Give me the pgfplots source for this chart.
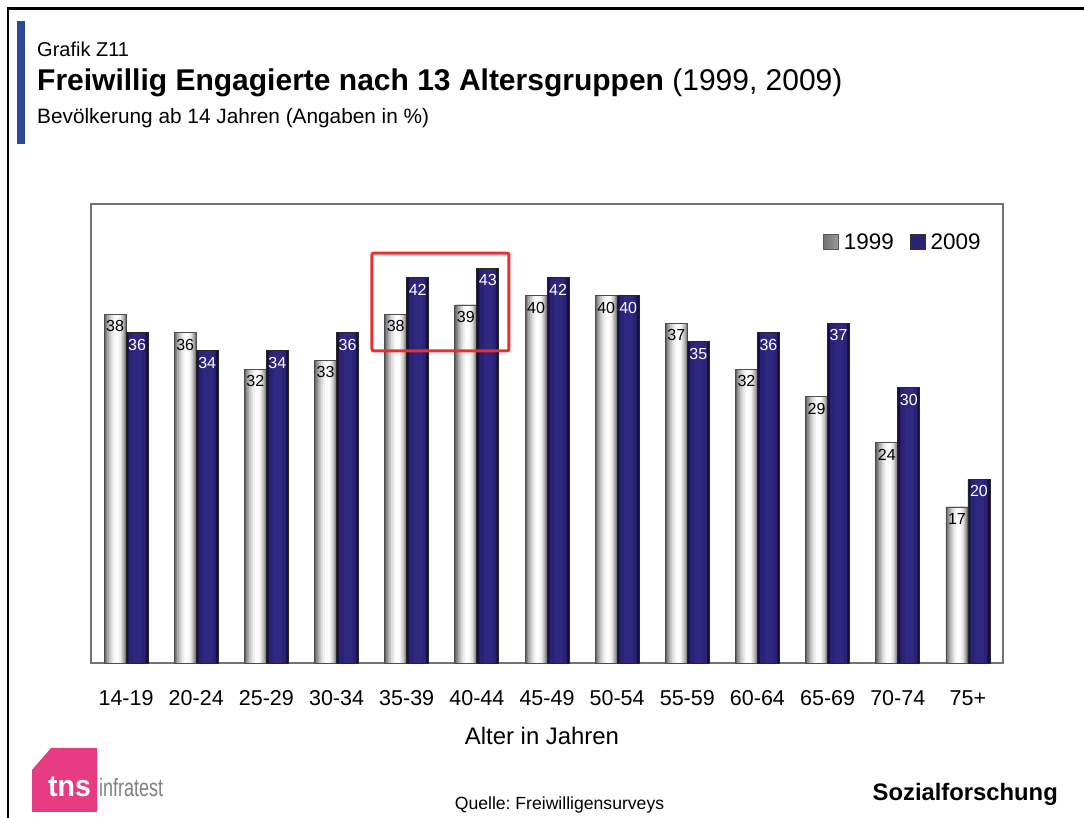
\documentclass[border=0pt]{standalone}
\usepackage{fontspec}
\setmainfont{Liberation Sans}
\usepackage{graphicx}
\usepackage{pgfplots}
\pgfplotsset{compat=1.18}
\frenchspacing
\definecolor{accentblue}{RGB}{46,70,155}
\definecolor{navyO}{RGB}{22,16,70}
\definecolor{navyI}{RGB}{42,34,116}
\definecolor{navyC}{RGB}{48,40,128}
\definecolor{boxred}{RGB}{232,48,46}
\definecolor{tnspink}{RGB}{232,60,130}
\definecolor{gA}{RGB}{100,100,100}
\definecolor{gB}{RGB}{135,135,135}
\definecolor{gC}{RGB}{168,168,168}
\definecolor{gD}{RGB}{196,196,196}
\definecolor{gE}{RGB}{220,220,220}
\definecolor{gF}{RGB}{238,238,238}
\definecolor{gG}{RGB}{252,252,252}
\pgfplotstableread{
x y1999 y2009
0 38 36
1 36 34
2 32 34
3 33 36
4 38 42
5 39 43
6 40 42
7 40 40
8 37 35
9 32 36
10 29 37
11 24 30
12 17 20
}\datatable
\begin{document}
\begin{tikzpicture}[x=1pt,y=1pt]
\useasboundingbox (0pt,0pt) rectangle (1084pt,818pt);
\fill[white] (0pt,0pt) rectangle (1084pt,818pt);
\draw[line width=2.5pt] (8pt,0pt) -- (8pt,809.5pt) -- (1084pt,809.5pt);
\fill[accentblue] (17pt,674pt) rectangle (25pt,797pt);
\node[anchor=base west, inner sep=0pt, font=\fontsize{20}{22}\selectfont] at (37pt,761pt) {Grafik Z11};
\node[anchor=base west, inner sep=0pt, font=\fontsize{30}{32}\selectfont] at (37pt,727pt) {\textbf{Freiwillig Engagierte nach 13 Altersgruppen} (1999, 2009)};
\node[anchor=base west, inner sep=0pt, font=\fontsize{20.8}{23}\selectfont] at (37pt,694pt) {Bevölkerung ab 14 Jahren (Angaben in \%)};
\begin{axis}[
  at={(91pt,155pt)}, anchor=south west,
  width=912pt, height=459pt, scale only axis,
  xmin=-0.5, xmax=12.5, ymin=0, ymax=50,
  ybar,
  axis line style={draw=black!55, line width=1.3pt},
  xtick={0,...,12},
  xticklabels={14-19,20-24,25-29,30-34,35-39,40-44,45-49,50-54,55-59,60-64,65-69,70-74,75+},
  ytick=\empty,
  major tick length=0pt,
  xticklabel style={font=\fontsize{21.5}{24}\selectfont, yshift=-24pt},
  every node near coord/.append style={anchor=north, font=\fontsize{16}{17}\selectfont, inner sep=0pt, yshift=-6pt},
  /pgf/number format/assume math mode=true,
  legend columns=2,
  legend style={draw=none, fill=none, at={(0.978,0.94)}, anchor=north east,
    font=\fontsize{22.5}{24}\selectfont, inner sep=0pt,
    /tikz/every odd column/.append style={column sep=3pt},
    /tikz/every even column/.append style={column sep=14pt},
    nodes={inner sep=2pt}},
  legend image code/.code={\draw[#1] (0pt,-7pt) rectangle (15pt,8pt);},
  clip=false,
]
% 1999 bars: layered horizontal shading
\addplot[forget plot, draw=none, fill=gA, bar width=22pt, bar shift=-11pt] table[x=x, y=y1999] {\datatable};
\addplot[forget plot, draw=none, fill=gB, bar width=20pt, bar shift=-10.5pt] table[x=x, y=y1999] {\datatable};
\addplot[forget plot, draw=none, fill=gC, bar width=17.5pt, bar shift=-10.25pt] table[x=x, y=y1999] {\datatable};
\addplot[forget plot, draw=none, fill=gD, bar width=14.5pt, bar shift=-10pt] table[x=x, y=y1999] {\datatable};
\addplot[forget plot, draw=none, fill=gE, bar width=11.5pt, bar shift=-9.75pt] table[x=x, y=y1999] {\datatable};
\addplot[forget plot, draw=none, fill=gF, bar width=8.5pt, bar shift=-9.5pt] table[x=x, y=y1999] {\datatable};
\addplot[forget plot, draw=none, fill=gG, bar width=5pt, bar shift=-9.25pt] table[x=x, y=y1999] {\datatable};
\addplot[forget plot, draw=black!70, line width=0.8pt, fill=none, bar width=22pt, bar shift=-11pt,
  nodes near coords, every node near coord/.append style={text=black}] table[x=x, y=y1999] {\datatable};
% 2009 bars
\addplot[forget plot, draw=none, fill=navyO, bar width=22pt, bar shift=11pt] table[x=x, y=y2009] {\datatable};
\addplot[forget plot, draw=none, fill=navyI, bar width=17pt, bar shift=11pt] table[x=x, y=y2009] {\datatable};
\addplot[forget plot, draw=none, fill=navyC, bar width=9pt, bar shift=11.5pt] table[x=x, y=y2009] {\datatable};
\addplot[forget plot, draw=black!85, line width=0.8pt, fill=none, bar width=22pt, bar shift=11pt,
  nodes near coords, every node near coord/.append style={text=white}] table[x=x, y=y2009] {\datatable};
\addlegendimage{draw=black!65, line width=0.7pt, left color=black!55, middle color=white, right color=black!40}
\addlegendentry{1999}
\addlegendimage{draw=black!80, line width=0.7pt, fill=navyI}
\addlegendentry{2009}
\draw[draw=boxred, line width=3pt, rounded corners=2pt] (axis cs:3.505,34.0) rectangle (axis cs:5.458,44.66);
\end{axis}
\node[anchor=base, inner sep=0pt, font=\fontsize{23.9}{26}\selectfont] at (542pt,73pt) {Alter in Jahren};
\node[anchor=base, inner sep=0pt, font=\fontsize{17.6}{19}\selectfont] at (559.5pt,8pt) {Quelle: Freiwilligensurveys};
\node[anchor=base east, inner sep=0pt, font=\fontsize{23.8}{26}\selectfont\bfseries] at (1058pt,17pt) {Sozialforschung};
\fill[tnspink] (32pt,6pt) -- (97pt,6pt) -- (97pt,70pt) -- (51pt,70pt) -- (32pt,48pt) -- cycle;
\node[anchor=base west, inner sep=0pt, text=white, font=\fontsize{30}{31}\selectfont\bfseries] at (48pt,21pt) {\scalebox{0.95}[1]{tns}};
\node[anchor=base west, inner sep=0pt, text=black!50, font=\fontsize{25}{27}\selectfont] at (99pt,21pt) {\scalebox{0.72}[1]{infratest}};
\end{tikzpicture}
\end{document}
